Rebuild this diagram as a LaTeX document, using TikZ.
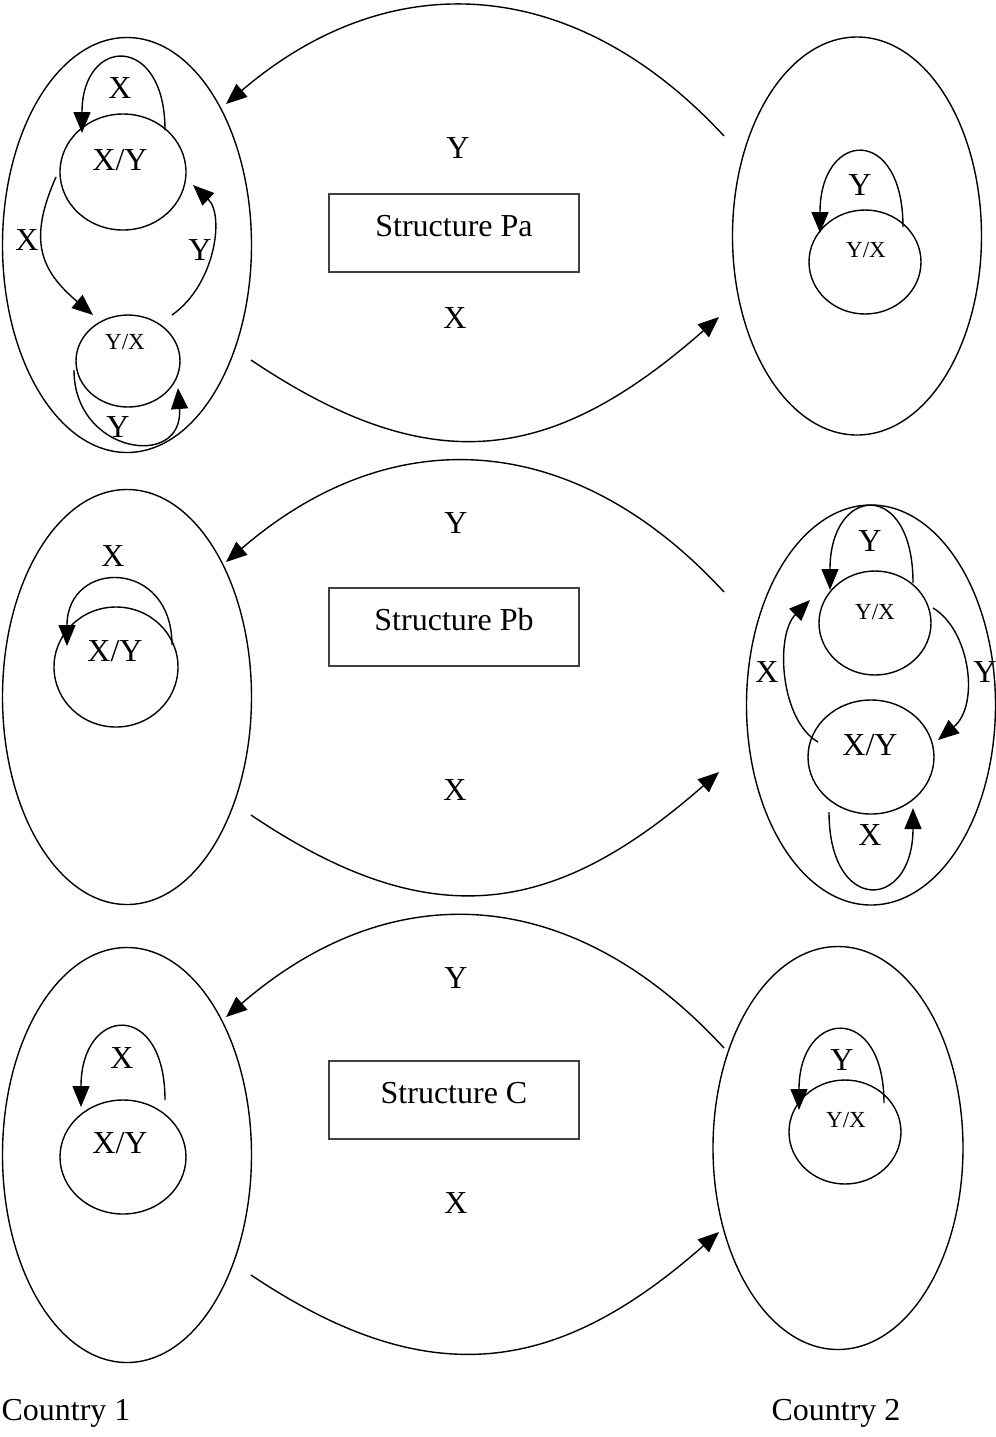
\documentclass[tikz,border=0pt]{standalone}
\usepackage{fontspec}
\setmainfont{Liberation Serif}
\usetikzlibrary{shapes.geometric,arrows.meta}
\begin{document}
\begin{tikzpicture}[x=0.5pt,y=-0.5pt,
  every node/.style={inner sep=0pt,outer sep=0pt},
  country/.style={draw,ellipse,line width=0.7pt},
  state/.style={draw,ellipse,line width=0.7pt},
  frame/.style={draw=black!75,line width=0.7pt,minimum width=125pt,minimum height=39pt},
  lbl/.style={font=\fontsize{16}{19}\selectfont},
  small/.style={font=\fontsize{11.5}{14}\selectfont},
  conn/.style={line width=0.7pt,-{Triangle[length=10.5pt,width=8.5pt]}},
]
\useasboundingbox (0,0) rectangle (996,1437);

% ================= Panel 1 =================
\node[country,minimum width=124.5pt,minimum height=207.5pt] (L1) at (127,245) {};
\node[country,minimum width=124.5pt,minimum height=199pt] (R1) at (857,236) {};
\node[frame] (S1) at (454,233) {};
\node[lbl] (S1t) at (454,226) {Structure Pa};
\node[lbl] (Y1) at (458,148) {Y};
\node[lbl] (X1) at (455,318) {X};

\draw[conn] ([shift={(-133,-100)}]R1.center) .. controls (576,-24) and (392,-38) .. ([shift={(99,-141)}]L1.center);
\draw[conn] ([shift={(124,115)}]L1.center) .. controls (434,483) and (554,462) .. ([shift={(-138,81)}]R1.center);

% left country, panel 1
\node[state,minimum width=63pt,minimum height=58pt] (XY1) at (123,172) {};
\node[lbl] (XY1t) at (120,160) {X/Y};
\node[state,minimum width=52pt,minimum height=46pt] (YX1) at (128,361) {};
\node[small] (YX1t) at (125,342) {Y/X};

\draw[conn] ([shift={(42,-42)}]XY1.center) .. controls +(0,-97) and +(0,-97) .. ([shift={(-41,-39)}]XY1.center);
\node[lbl] (XY1lx) at (120,88) {X};
\draw[conn] ([shift={(-67,5)}]XY1.center) .. controls (28,240) and (40,270) .. ([shift={(-35,-46)}]YX1.center);
\node[lbl] (XY1x) at (27,240) {X};
\draw[conn] ([shift={(44,-46)}]YX1.center) .. controls (215,285) and (225,215) .. ([shift={(70,13)}]XY1.center);
\node[lbl] (YX1y) at (200,250) {Y};
\draw[conn] ([shift={(-54,9)}]YX1.center) .. controls +(0,84) and +(6,82) .. ([shift={(50,27)}]YX1.center);
\node[lbl] (YX1ly) at (118,427) {Y};

% right country, panel 1
\node[state,minimum width=56pt,minimum height=52pt] (YXr1) at (865,262) {};
\node[small] (YXr1t) at (866,250) {Y/X};
\draw[conn] ([shift={(38,-35)}]YXr1.center) .. controls +(0,-103) and +(0,-103) .. ([shift={(-45,-29)}]YXr1.center);
\node[lbl] (YXr1ly) at (860,185) {Y};

% ================= Panel 2 =================
\node[country,minimum width=124.5pt,minimum height=207.5pt] (L2) at (127,697) {};
\node[country,minimum width=124.5pt,minimum height=200pt] (R2) at (871,705) {};
\node[frame] (S2) at (454,627) {};
\node[lbl] (S2t) at (454,620) {Structure Pb};
\node[lbl] (Y2) at (456,523) {Y};
\node[lbl] (X2) at (455,790) {X};

\draw[conn] ([shift={(-147,-113)}]R2.center) .. controls (575,430) and (393,418) .. ([shift={(99,-135)}]L2.center);
\draw[conn] ([shift={(124,118)}]L2.center) .. controls (432,937) and (555,916) .. ([shift={(-152,67)}]R2.center);

% left country, panel 2
\node[state,minimum width=62pt,minimum height=60pt] (XY2) at (116,667) {};
\node[lbl] (XY2t) at (115,651) {X/Y};
\draw[conn] ([shift={(56,-22)}]XY2.center) .. controls +(0,-87) and +(0,-87) .. ([shift={(-49,-21)}]XY2.center);
\node[lbl] (XY2lx) at (113,556) {X};

% right country, panel 2
\node[state,minimum width=56pt,minimum height=52pt] (YX2) at (875,623) {};
\node[small] (YX2t) at (875,612) {Y/X};
\node[state,minimum width=63pt,minimum height=57pt] (XY2r) at (871,757) {};
\node[lbl] (XY2rt) at (870,745) {X/Y};

\draw[conn] ([shift={(38,-40)}]YX2.center) .. controls +(0,-105) and +(0,-105) .. ([shift={(-45,-33)}]YX2.center);
\node[lbl] (YX2ly) at (870,541) {Y};
\draw[conn] ([shift={(58,-15)}]YX2.center) .. controls (970,630) and (980,705) .. ([shift={(67,-17)}]XY2r.center);
\node[lbl] (YX2y) at (985,672) {Y};
\draw[conn] ([shift={(-53,-15)}]XY2r.center) .. controls (780,720) and (775,635) .. ([shift={(-65,-23)}]YX2.center);
\node[lbl] (XY2rx) at (767,672) {X};
\draw[conn] ([shift={(-42,55)}]XY2r.center) .. controls +(0,103) and +(0,103) .. ([shift={(42,51)}]XY2r.center);
\node[lbl] (XY2rlx) at (870,835) {X};

% ================= Panel 3 =================
\node[country,minimum width=124.5pt,minimum height=207.5pt] (L3) at (127,1155) {};
\node[country,minimum width=125pt,minimum height=201.5pt] (R3) at (838,1148) {};
\node[frame] (S3) at (454,1100) {};
\node[lbl] (S3t) at (454,1093) {Structure C};
\node[lbl] (Y3) at (456,978) {Y};
\node[lbl] (X3) at (456,1203) {X};

\draw[conn] ([shift={(-114,-100)}]R3.center) .. controls (574,885) and (394,872) .. ([shift={(99,-138)}]L3.center);
\draw[conn] ([shift={(124,120)}]L3.center) .. controls (430,1395) and (558,1374) .. ([shift={(-119,84)}]R3.center);

% left country, panel 3
\node[state,minimum width=63pt,minimum height=57pt] (XY3) at (123,1157) {};
\node[lbl] (XY3t) at (120,1143) {X/Y};
\draw[conn] ([shift={(42,-57)}]XY3.center) .. controls +(0,-101) and +(0,-101) .. ([shift={(-42,-50)}]XY3.center);
\node[lbl] (XY3lx) at (122,1058) {X};

% right country, panel 3
\node[state,minimum width=56pt,minimum height=52pt] (YX3) at (845,1132) {};
\node[small] (YX3t) at (846,1120) {Y/X};
\draw[conn] ([shift={(39,-29)}]YX3.center) .. controls +(0,-101) and +(0,-101) .. ([shift={(-46,-22)}]YX3.center);
\node[lbl] (YX3ly) at (842,1060) {Y};

% ================= Labels =================
\node[lbl] (C1) at (66,1413) {Country 1};
\node[lbl] (C2) at (836,1413) {Country 2};
\end{tikzpicture}
\end{document}
